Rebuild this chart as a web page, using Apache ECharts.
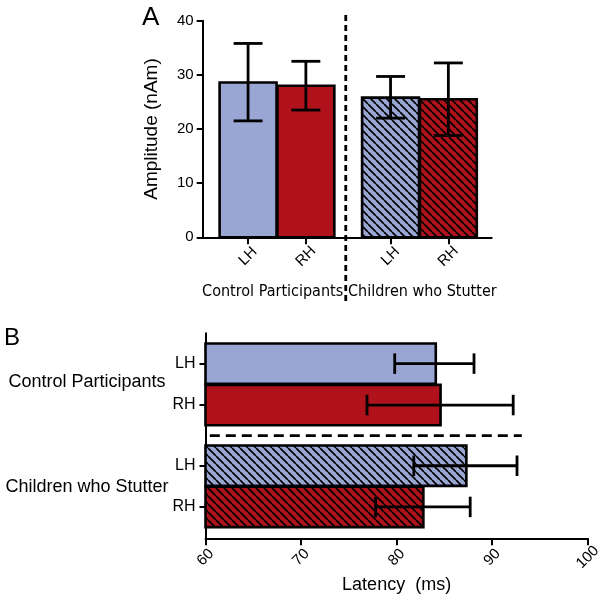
<!DOCTYPE html>
<html>
<head>
<meta charset="utf-8">
<script src="https://cdn.jsdelivr.net/npm/echarts@6/dist/echarts.min.js"></script>
<style>
html,body{margin:0;padding:0;background:#fff;}
#chart{width:604px;height:599px;}
</style>
</head>
<body>
<div id="chart"></div>
<script>
// ---- data ----
const categories = ['LH', 'RH', 'LH', 'RH'];
const groups = ['Control Participants', 'Children who Stutter'];
const amplitude = [28.6, 28.0, 25.8, 25.5];
const amplitudeLow = [21.5, 23.5, 22.0, 18.8];
const amplitudeHigh = [35.8, 32.5, 29.7, 32.2];
const latency = [84.1, 84.6, 87.3, 82.8];
const latencyLow = [79.8, 76.9, 81.8, 77.8];
const latencyHigh = [88.1, 92.2, 92.6, 87.7];
const amplitudeTicks = [0, 10, 20, 30, 40];
const latencyTicks = [60, 70, 80, 90, 100];

// ---- layout (slot positions on a 0..10 band axis) ----
const slotA = [1.57, 3.57, 6.5, 8.5];
const slotB = [1.48, 3.5, 6.46, 8.47];
const groupSlotA = [2.42, 7.6];
const groupSlotB = [2.36, 7.48];
const dividerA = 4.95, dividerB = 4.99;
const HALF = 0.985, CAP = 0.5;

const BLUE = '#99A5D3', RED = '#AF121A';
const FONT = '"Liberation Sans", Arial, Helvetica, sans-serif';

function hatch(bg) {
  const s = 8;
  const c = document.createElement('canvas');
  c.width = s; c.height = s;
  const g = c.getContext('2d');
  g.fillStyle = bg; g.fillRect(0, 0, s, s);
  g.strokeStyle = '#000'; g.lineWidth = 1.7;
  for (const x0 of [-s, 0, s]) {
    g.beginPath(); g.moveTo(x0, 0); g.lineTo(x0 + s, s); g.stroke();
  }
  return {image: c, repeat: 'repeat'};
}
const fills = [BLUE, RED, hatch(BLUE), hatch(RED)];

// narrow font detection for the panel A group labels
const mc = document.createElement('canvas').getContext('2d');
function fontAvailable(name) {
  mc.font = '40px monospace';
  const a = mc.measureText(groups[0]).width;
  mc.font = '40px "' + name + '", monospace';
  const b = mc.measureText(groups[0]).width;
  return Math.abs(a - b) > 0.5;
}
let groupAFont = {fontFamily: FONT, fontSize: 16};
if (fontAvailable('Liberation Sans Narrow')) groupAFont = {fontFamily: '"Liberation Sans Narrow"', fontSize: 18.5};
else if (fontAvailable('DejaVu Sans Condensed')) groupAFont = {fontFamily: '"DejaVu Sans Condensed"', fontSize: 16};

const barA = slotA.map((p, i) => [p, amplitude[i], i]);
const errA = slotA.map((p, i) => [p, amplitudeLow[i], amplitudeHigh[i]]);
const barB = slotB.map((p, i) => [latency[i], p, i]);
const errB = slotB.map((p, i) => [latencyLow[i], latencyHigh[i], p]);

const axisLineStyle = {color: '#000', width: 2};
const chart = echarts.init(document.getElementById('chart'), null, {renderer: 'canvas'});
chart.setOption({
  animation: false,
  backgroundColor: '#fff',
  textStyle: {fontFamily: FONT, color: '#000'},
  title: [
    {text: 'A', left: 142, top: 5, padding: 0, textStyle: {fontSize: 26, fontWeight: 'normal', color: '#000', fontFamily: FONT}},
    {text: 'B', left: 4, top: 326, padding: 0, textStyle: {fontSize: 24, fontWeight: 'normal', color: '#000', fontFamily: FONT}}
  ],
  grid: [
    {left: 202.7, top: 20.7, width: 289, height: 216.6},
    {left: 205.5, top: 333.3, width: 387, height: 205}
  ],
  xAxis: [
    {
      gridIndex: 0, type: 'value', min: 0, max: 10, position: 'bottom',
      axisLine: {show: true, onZero: false, lineStyle: axisLineStyle},
      axisTick: {show: true, customValues: slotA, length: 7, lineStyle: {color: '#000', width: 2}},
      axisLabel: {customValues: slotA, rotate: 45, margin: 19, align: 'center', verticalAlign: 'middle',
        fontSize: 15, color: '#000', formatter: v => categories[slotA.indexOf(v)] || ''},
      splitLine: {show: false}
    },
    {
      gridIndex: 0, type: 'value', min: 0, max: 10, position: 'bottom', offset: 0,
      axisLine: {show: false, onZero: false}, axisTick: {show: false}, splitLine: {show: false},
      axisLabel: Object.assign({customValues: groupSlotA, margin: 47, color: '#000', hideOverlap: false,
        formatter: v => groups[groupSlotA.indexOf(v)] || ''}, groupAFont)
    },
    {
      gridIndex: 1, type: 'value', min: 60, max: 100, interval: 10, position: 'bottom',
      axisLine: {show: true, onZero: false, lineStyle: axisLineStyle},
      axisTick: {show: true, customValues: latencyTicks, length: 7, lineStyle: {color: '#000', width: 2}},
      axisLabel: {customValues: latencyTicks, rotate: 45, margin: 19, align: 'center', verticalAlign: 'middle',
        fontSize: 15, color: '#000'},
      splitLine: {show: false},
      name: 'Latency  (ms)', nameLocation: 'middle', nameGap: 38,
      nameTextStyle: {fontSize: 18, color: '#000', fontFamily: FONT}
    }
  ],
  yAxis: [
    {
      gridIndex: 0, type: 'value', min: 0, max: 40, interval: 10,
      axisLine: {show: true, onZero: false, lineStyle: axisLineStyle},
      axisTick: {show: true, customValues: amplitudeTicks, length: 6, lineStyle: {color: '#000', width: 2}},
      axisLabel: {customValues: amplitudeTicks, margin: 9, fontSize: 15, color: '#000'},
      splitLine: {show: false},
      name: 'Amplitude (nAm)', nameLocation: 'middle', nameGap: 41, nameRotate: 90,
      nameTextStyle: {fontSize: 19, color: '#000', fontFamily: FONT}
    },
    {
      gridIndex: 1, type: 'value', min: 0, max: 10, inverse: true,
      axisLine: {show: true, onZero: false, lineStyle: axisLineStyle},
      axisTick: {show: true, customValues: slotB, length: 6, lineStyle: {color: '#000', width: 2}},
      axisLabel: {customValues: slotB, margin: 10, fontSize: 16, color: '#000',
        formatter: v => categories[slotB.indexOf(v)] || ''},
      splitLine: {show: false}
    },
    {
      gridIndex: 1, type: 'value', min: 0, max: 10, inverse: true, position: 'left', offset: 0,
      axisLine: {show: false, onZero: false}, axisTick: {show: false}, splitLine: {show: false},
      axisLabel: {customValues: groupSlotB, margin: 118.5, align: 'center', fontSize: 18, color: '#000',
        fontFamily: FONT, hideOverlap: false, formatter: v => groups[groupSlotB.indexOf(v)] || ''}
    }
  ],
  series: [
    {
      type: 'custom', xAxisIndex: 0, yAxisIndex: 0, z: 2,
      encode: {x: 0, y: 1},
      data: barA,
      renderItem: (params, api) => {
        const x = api.value(0), v = api.value(1), i = api.value(2);
        const a = api.coord([x - HALF, v]);
        const b = api.coord([x + HALF, 0]);
        return {type: 'rect',
          shape: {x: Math.min(a[0], b[0]), y: Math.min(a[1], b[1]), width: Math.abs(b[0] - a[0]), height: Math.abs(b[1] - a[1])},
          style: {fill: fills[i], stroke: '#000', lineWidth: 2.6}};
      }
    },
    {
      type: 'custom', xAxisIndex: 0, yAxisIndex: 0, z: 3,
      encode: {x: 0, y: [1, 2]},
      data: errA,
      renderItem: (params, api) => {
        const x = api.value(0), lo = api.value(1), hi = api.value(2);
        const pl = api.coord([x, lo]), ph = api.coord([x, hi]);
        const w = api.size([CAP, 0])[0];
        const st = {stroke: '#000', lineWidth: 2.8};
        return {type: 'group', children: [
          {type: 'line', shape: {x1: pl[0], y1: pl[1], x2: ph[0], y2: ph[1]}, style: st},
          {type: 'line', shape: {x1: pl[0] - w, y1: pl[1], x2: pl[0] + w, y2: pl[1]}, style: st},
          {type: 'line', shape: {x1: ph[0] - w, y1: ph[1], x2: ph[0] + w, y2: ph[1]}, style: st}
        ]};
      }
    },
    {
      type: 'line', xAxisIndex: 0, yAxisIndex: 0, z: 4, clip: false, symbol: 'none',
      data: [[dividerA, 41.05], [dividerA, -11.95]],
      lineStyle: {color: '#000', width: 2.8, type: [6, 4]}
    },
    {
      type: 'custom', xAxisIndex: 2, yAxisIndex: 1, z: 2,
      encode: {x: 0, y: 1},
      data: barB,
      renderItem: (params, api) => {
        const v = api.value(0), y = api.value(1), i = api.value(2);
        const a = api.coord([60, y - HALF]);
        const b = api.coord([v, y + HALF]);
        return {type: 'rect',
          shape: {x: Math.min(a[0], b[0]), y: Math.min(a[1], b[1]), width: Math.abs(b[0] - a[0]), height: Math.abs(b[1] - a[1])},
          style: {fill: fills[i], stroke: '#000', lineWidth: 2.6}};
      }
    },
    {
      type: 'custom', xAxisIndex: 2, yAxisIndex: 1, z: 3,
      encode: {x: [0, 1], y: 2},
      data: errB,
      renderItem: (params, api) => {
        const lo = api.value(0), hi = api.value(1), y = api.value(2);
        const pl = api.coord([lo, y]), ph = api.coord([hi, y]);
        const h = Math.abs(api.size([0, CAP])[1]);
        const st = {stroke: '#000', lineWidth: 2.8};
        return {type: 'group', children: [
          {type: 'line', shape: {x1: pl[0], y1: pl[1], x2: ph[0], y2: ph[1]}, style: st},
          {type: 'line', shape: {x1: pl[0], y1: pl[1] - h, x2: pl[0], y2: pl[1] + h}, style: st},
          {type: 'line', shape: {x1: ph[0], y1: ph[1] - h, x2: ph[0], y2: ph[1] + h}, style: st}
        ]};
      }
    },
    {
      type: 'line', xAxisIndex: 2, yAxisIndex: 1, z: 4, clip: false, symbol: 'none',
      data: [[60.45, dividerB], [93.1, dividerB]],
      lineStyle: {color: '#000', width: 2.8, type: [10, 6]}
    }
  ]
});
</script>
</body>
</html>
